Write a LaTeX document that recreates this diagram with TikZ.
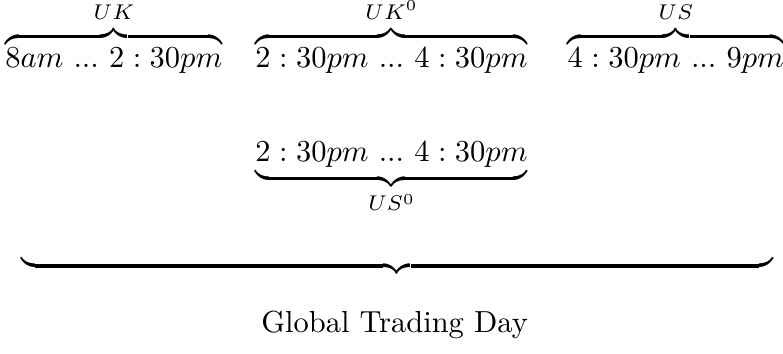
\documentclass[tikz,border=0pt]{standalone}
\usepackage{amsmath}
\usetikzlibrary{positioning}
\newcommand{\till}{\ ...\ }
\begin{document}
\begin{tikzpicture}[node distance=10pt]
\tikzstyle{span}=[inner sep=0pt,anchor=base]
\useasboundingbox (0,0) rectangle (257pt,-116pt);
% top row: local sessions
\node[span] (ukzero) at (128.5pt,-22pt) {$\overbrace{2:30pm\till4:30pm}^{UK^0}$};
\node[span,left=10.5pt of ukzero.base west,anchor=base east] (uk) {$\overbrace{8am\till2:30pm}^{UK}$};
\node[span,right=12.8pt of ukzero.base east,anchor=base west] (us) {$\overbrace{4:30pm\till9pm}^{US}$};
% overlap seen from the US side
\node[span,below=31pt of ukzero.base,anchor=base] (uszero) {$\underbrace{2:30pm\till4:30pm}_{US^0}$};
% whole day
\node[inner sep=0pt,anchor=north] (day) at (130.3pt,-83.5pt) {$\underbrace{\hspace{246.8pt}}$};
\node[span] (label) at (129.5pt,-109pt) {Global Trading Day};
\end{tikzpicture}
\end{document}
